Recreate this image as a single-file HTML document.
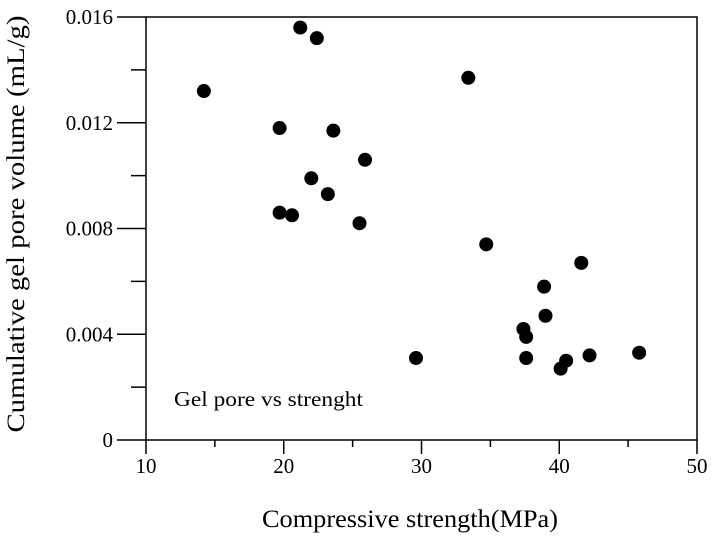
<!DOCTYPE html>
<html><head><meta charset="utf-8"><style>
body{margin:0;background:#fff}
svg{display:block;font-family:"Liberation Serif",serif}
</style></head><body>
<svg id="c" width="714" height="542"></svg>
<script>
const xVals=[14.2,21.2,22.4,33.4,19.7,23.6,25.9,22.0,23.2,19.7,20.6,25.5,34.7,41.6,38.9,39.0,37.4,37.6,29.6,37.6,40.5,40.1,42.2,45.8];
const yVals=[0.0132,0.0156,0.0152,0.0137,0.0118,0.0117,0.0106,0.0099,0.0093,0.0086,0.0085,0.0082,0.0074,0.0067,0.0058,0.0047,0.0042,0.0039,0.0031,0.0031,0.0030,0.0027,0.0032,0.0033];
const xTicks=[10,20,30,40,50];
const yTicks=[0,0.004,0.008,0.012,0.016];
const yTickLabels=["0","0.004","0.008","0.012","0.016"];
const L=146,R=697,T=17,B=440;
const sx=v=>L+(v-10)/40*(R-L);
const sy=v=>B-v/0.016*(B-T);
const s=document.getElementById('c');
const NS='http://www.w3.org/2000/svg';
function mk(t,a,txt){const e=document.createElementNS(NS,t);for(const k in a)e.setAttribute(k,a[k]);if(txt!==undefined)e.textContent=txt;s.appendChild(e);return e;}
let e;
e=mk('rect',{x:L,y:T,width:R-L,height:B-T,fill:'none',stroke:'#000','stroke-width':1.5});


for(let i=0;i<xTicks.length;i++){
 const x=sx(xTicks[i]);
 e=mk('line',{x1:x,x2:x,y1:B,y2:B+14,stroke:'#000','stroke-width':1.5});
 
 
 e=mk('text',{x:x,y:B+33,'text-anchor':'middle','font-size':21},String(xTicks[i]));
 
 
 if(i<xTicks.length-1){const xm=sx(xTicks[i]+5);
 e=mk('line',{x1:xm,x2:xm,y1:B,y2:B+7,stroke:'#000','stroke-width':1.5});
 
 }
}
for(let i=0;i<yTicks.length;i++){
 const y=sy(yTicks[i]);
 e=mk('line',{x1:L-29,x2:L,y1:y,y2:y,stroke:'#000','stroke-width':1.5});
 
 
 e=mk('text',{x:L-33,y:y+7,'text-anchor':'end','font-size':21},yTickLabels[i]);
 
 
 if(i<yTicks.length-1){const ym=sy(yTicks[i]+0.002);
 e=mk('line',{x1:L-15,x2:L,y1:ym,y2:ym,stroke:'#000','stroke-width':1.5});
 
 }
}
for(let i=0;i<xVals.length;i++){
 e=mk('circle',{cx:sx(xVals[i]),cy:sy(yVals[i]),r:7,fill:'#000'});
 
 
}
e=mk('text',{x:174,y:406,'font-size':21,textLength:189,lengthAdjust:'spacingAndGlyphs'},'Gel pore vs strenght');


e=mk('text',{x:410,y:527,'text-anchor':'middle','font-size':25,textLength:296,lengthAdjust:'spacingAndGlyphs'},'Compressive strength(MPa)');


e=mk('text',{x:0,y:0,'text-anchor':'middle','font-size':25,textLength:417,lengthAdjust:'spacingAndGlyphs',transform:'translate(24,224) rotate(-90)'},'Cumulative gel pore volume  (mL/g)');


</script>
</body></html>
